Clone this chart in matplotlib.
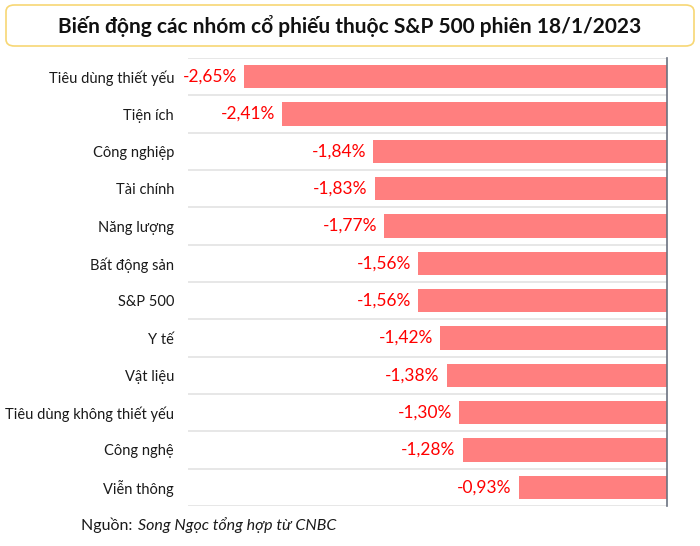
import matplotlib.pyplot as plt
from matplotlib.patches import FancyBboxPatch

# Data
categories = ['Tiêu dùng thiết yếu', 'Tiện ích', 'Công nghiệp', 'Tài chính',
              'Năng lượng', 'Bất động sản', 'S&P 500', 'Y tế', 'Vật liệu',
              'Tiêu dùng không thiết yếu', 'Công nghệ', 'Viễn thông']
changes = [-2.65, -2.41, -1.84, -1.83, -1.77, -1.56, -1.56, -1.42, -1.38,
           -1.30, -1.28, -0.93]

plt.rcParams['font.family'] = ['Lato', 'DejaVu Sans']

fig = plt.figure(figsize=(7, 5.46), dpi=100)
ax = fig.add_axes([188 / 700, 1 - 506 / 546, (667 - 188) / 700, (506 - 58) / 546])

y = list(range(len(categories)))
ax.barh(y, changes, height=0.62, color='#FF7F7F', zorder=2)

for yi, v in zip(y, changes):
    ax.annotate(f'{v:.2f}%'.replace('.', ','), (v, yi),
                textcoords='offset points', xytext=(-5, 0),
                ha='right', va='center', color='#FF0000', fontsize=12.5)

ax.set_xlim(-3, 0)
ax.set_ylim(len(categories) - 0.5, -0.5)
ax.set_yticks(y)
ax.set_yticklabels(categories, fontsize=10.5, color='#1a1a1a')
ax.tick_params(axis='y', length=0, pad=10)
ax.set_xticks([])

for k in range(len(categories) + 1):
    ax.axhline(k - 0.5, color='#e3e3e3', linewidth=1.2, zorder=1)

for s in ['top', 'bottom', 'left']:
    ax.spines[s].set_visible(False)
ax.spines['right'].set_color('#6b7280')
ax.spines['right'].set_linewidth(1.2)

# Title box
box = FancyBboxPatch((6 / 700, 1 - 46 / 546), 688 / 700, 41 / 546,
                     boxstyle='round,pad=0,rounding_size=0.012',
                     transform=fig.transFigure, facecolor='white',
                     edgecolor='#F7D774', linewidth=1.2)
fig.patches.append(box)
fig.text(0.5, 1 - 26 / 546, 'Biến động các nhóm cổ phiếu thuộc S&P 500 phiên 18/1/2023',
         ha='center', va='center', fontsize=15, fontweight='bold', color='#111111')

# Source
fig.text(81 / 700, 1 - 525 / 546, 'Nguồn: ', ha='left', va='center', fontsize=11.5,
         color='#1a1a1a')
fig.text(138 / 700, 1 - 525 / 546, 'Song Ngọc tổng hợp từ CNBC', ha='left',
         va='center', fontsize=11.5, style='italic', color='#1a1a1a')

fig.savefig('out.png', dpi=100)
